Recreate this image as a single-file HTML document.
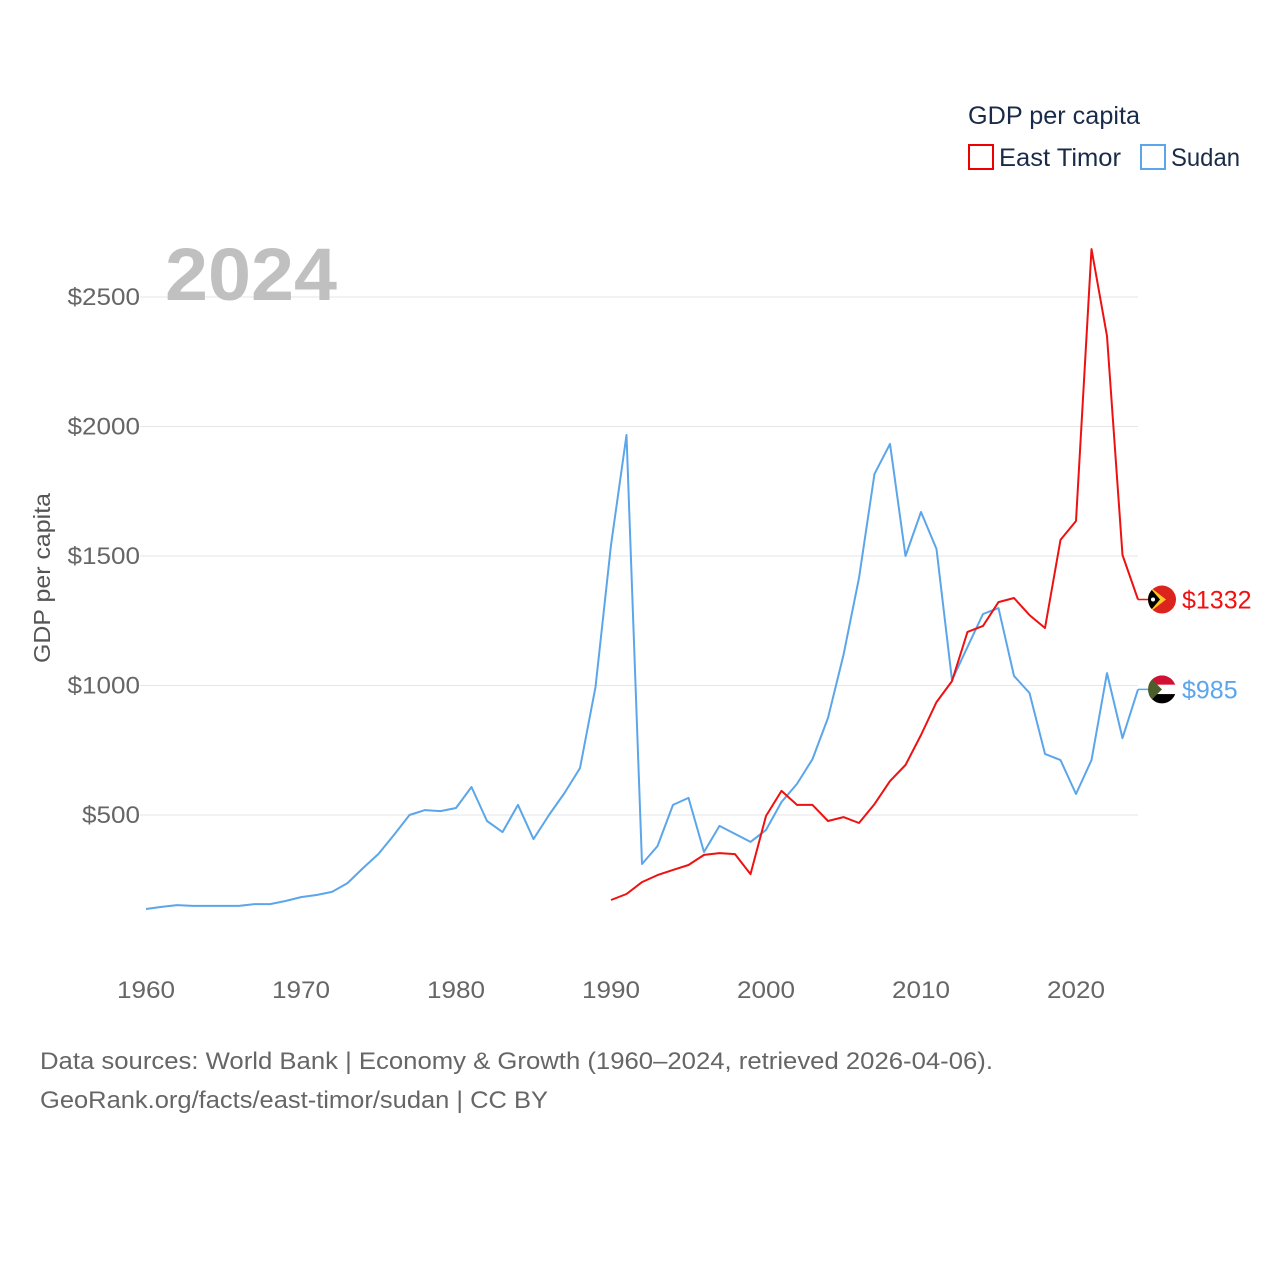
<!DOCTYPE html>
<html><head><meta charset="utf-8"><style>
html,body{margin:0;padding:0;background:#fff}
svg{display:block;font-family:"Liberation Sans",sans-serif}
</style></head><body>
<svg id="chart" width="1280" height="1280" viewBox="0 0 1280 1280">
<g id="grid"></g>
<g id="yticks"></g>
<g id="xticks"></g>
<text x="165" y="300" font-size="74" font-weight="bold" fill="#c0c0c0" textLength="172" lengthAdjust="spacingAndGlyphs">2024</text>
<text transform="translate(50,578) rotate(-90)" text-anchor="middle" font-size="23" fill="#555" textLength="170" lengthAdjust="spacingAndGlyphs">GDP per capita</text>
<g id="series"></g>
<g>
<text x="968" y="124" font-size="25" fill="#1a2b4a" textLength="172" lengthAdjust="spacingAndGlyphs">GDP per capita</text>
<g>
<rect x="969" y="145" width="24" height="24" fill="none" stroke="#e00" stroke-width="2"/>
<text x="999" y="166" font-size="25" fill="#1a2b4a" textLength="122" lengthAdjust="spacingAndGlyphs">East Timor</text></g>
<g>
<rect x="1141" y="145" width="24" height="24" fill="none" stroke="#5ba6ea" stroke-width="2"/>
<text x="1171" y="166" font-size="25" fill="#1a2b4a" textLength="69" lengthAdjust="spacingAndGlyphs">Sudan</text></g>
</g>
<text x="40" y="1069" font-size="24" fill="#666" textLength="953" lengthAdjust="spacingAndGlyphs">Data sources: World Bank | Economy &amp; Growth (1960–2024, retrieved 2026-04-06).</text>
<text x="40" y="1108" font-size="24" fill="#666" textLength="508" lengthAdjust="spacingAndGlyphs">GeoRank.org/facts/east-timor/sudan | CC BY</text>
</svg>
<script>
const sudanStart = 1960;
const sudanValues = [137,145,152,149,149,149,149,156,156,168,183,191,203,237,295,350,423,500,519,515,527,608,477,434,539,407,500,585,681,994,1542,1967,311,380,539,566,357,458,427,396,442,550,620,716,875,1118,1415,1817,1933,1500,1670,1527,1021,1149,1276,1299,1037,971,736,712,581,712,1048,797,985];
const timorStart = 1990;
const timorValues = [172,195,241,268,288,307,346,353,349,272,496,593,539,539,477,492,469,542,631,693,809,936,1017,1207,1230,1322,1338,1272,1222,1562,1635,2685,2349,1504,1332];
const yTicks = [500,1000,1500,2000,2500];
const xTicks = [1960,1970,1980,1990,2000,2010,2020];
const NS = "http://www.w3.org/2000/svg";
function xs(yr){return 146 + (yr-1960)*15.5;}
function ys(v){return 944.5 - v*0.259;}
function mk(tag,attrs,parent){const e=document.createElementNS(NS,tag);for(const k in attrs)e.setAttribute(k,attrs[k]);parent.appendChild(e);return e;}
const grid=document.getElementById('grid'),yt=document.getElementById('yticks'),xt=document.getElementById('xticks'),ser=document.getElementById('series');
yTicks.forEach(v=>{
  const l=mk('line',{x1:140,x2:1138,y1:ys(v),y2:ys(v),stroke:'#e6e6e6','stroke-width':1},grid);
  
  
  const t=mk('text',{x:140,y:ys(v)+8,'text-anchor':'end','font-size':24,fill:'#666',textLength:(String(v).length+1)*14.5,lengthAdjust:'spacingAndGlyphs'},yt);
  t.textContent='$'+v;
  
  
});
xTicks.forEach(yr=>{
  const t=mk('text',{x:xs(yr),y:998,'text-anchor':'middle','font-size':24,fill:'#666',textLength:58,lengthAdjust:'spacingAndGlyphs'},xt);
  t.textContent=yr;
  
  
});
function line(start,vals,color,name,label,flag){
  const pts=vals.map((v,i)=>xs(start+i).toFixed(1)+','+ys(v).toFixed(1));
  const p=mk('polyline',{points:pts.join(' '),fill:'none',stroke:color,'stroke-width':2,'stroke-linejoin':'round'},ser);
  
  
  const last=vals[vals.length-1],ly=ys(last),lx=xs(start+vals.length-1);
  const c=mk('line',{x1:lx,x2:lx+12,y1:ly,y2:ly,stroke:color,'stroke-width':1.5},ser);
  
  
  const g=mk('g',{},ser);
  
  
  flag(g,1162,ly);
  const t=mk('text',{x:1182,y:ly+9,'font-size':25,fill:color},ser);
  t.textContent='$'+label;
  
  
}
line(sudanStart,sudanValues,'#5ba6ea','sudan',sudanValues[sudanValues.length-1],(g,x,y)=>{
  const cp=mk('clipPath',{id:'cs'},g);mk('circle',{cx:x,cy:y,r:14},cp);
  const h=mk('g',{'clip-path':'url(#cs)'},g);
  mk('rect',{x:x-14,y:y-14,width:28,height:9.4,fill:'#d21034'},h);
  mk('rect',{x:x-14,y:y-4.6,width:28,height:9.3,fill:'#fff'},h);
  mk('rect',{x:x-14,y:y+4.7,width:28,height:9.4,fill:'#000'},h);
  mk('polygon',{points:`${x-14},${y-14} ${x},${y} ${x-14},${y+14}`,fill:'#4b5e2c'},h);
});
line(timorStart,timorValues,'#ee1111','east-timor',timorValues[timorValues.length-1],(g,x,y)=>{
  const cp=mk('clipPath',{id:'ct'},g);mk('circle',{cx:x,cy:y,r:14},cp);
  const h=mk('g',{'clip-path':'url(#ct)'},g);
  mk('rect',{x:x-14,y:y-14,width:28,height:28,fill:'#dc241f'},h);
  mk('polygon',{points:`${x-14},${y-14} ${x+4},${y} ${x-14},${y+14}`,fill:'#ffc726'},h);
  mk('polygon',{points:`${x-14},${y-14} ${x-2},${y} ${x-14},${y+14}`,fill:'#000'},h);
  mk('circle',{cx:x-9,cy:y,r:2,fill:'#fff'},h);
});
</script>
</body></html>
